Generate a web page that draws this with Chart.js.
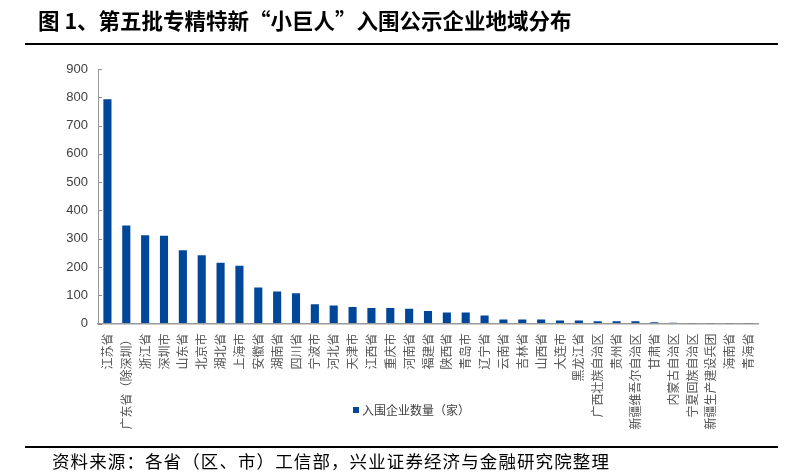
<!DOCTYPE html>
<html>
<head>
<meta charset="utf-8">
<script src="https://cdn.jsdelivr.net/npm/chart.js@4/dist/chart.umd.min.js"></script>
<style>
  html, body { margin: 0; padding: 0; background: #fff; }
  #wrap { position: relative; width: 805px; height: 475px; overflow: hidden; background: #fff; }
  #c { position: absolute; left: 0; top: 0; }
  .title { position: absolute; left: 38px; top: 6px; font-family: "Noto Sans CJK SC", sans-serif; font-weight: 700; font-size: 21.5px; color: #000; white-space: nowrap; line-height: 28px; }
  .rule { position: absolute; left: 25px; width: 753px; height: 2px; background: #000; }
  .foot { position: absolute; left: 52px; top: 449px; font-family: "Noto Sans CJK SC", sans-serif; font-size: 17.5px; color: #000; white-space: nowrap; line-height: 24px; letter-spacing: 1.1px; }
  .legend { position: absolute; left: 353px; top: 402px; font-family: "Noto Sans CJK SC", sans-serif; font-size: 12px; color: #404040; white-space: nowrap; line-height: 16px; }
  .legend i { display: inline-block; width: 6px; height: 6px; background: #00479A; margin-right: 3px; vertical-align: 2px; }
</style>
</head>
<body>
<div id="wrap">
  <canvas id="c" width="805" height="475"></canvas>
  <div class="title">图 1、第五批专精特新“小巨人”入围公示企业地域分布</div>
  <div class="rule" style="top:43px"></div>
  <div class="rule" style="top:446px"></div>
  <div class="legend"><i></i>入围企业数量（家）</div>
  <div class="foot">资料来源：各省（区、市）工信部，兴业证券经济与金融研究院整理</div>
</div>
<script>
const categories = ["江苏省","广东省（除深圳）","浙江省","深圳市","山东省","北京市","湖北省","上海市","安徽省","湖南省","四川省","宁波市","河北省","天津市","江西省","重庆市","河南省","福建省","陕西省","青岛市","辽宁省","云南省","吉林省","山西省","大连市","黑龙江省","广西壮族自治区","贵州省","新疆维吾尔自治区","甘肃省","内蒙古自治区","宁夏回族自治区","新疆生产建设兵团","海南省","青海省"];
const seriesName = "入围企业数量（家）";
const companyCounts = [793,347,312,310,259,241,215,204,127,113,107,68,64,58,55,55,52,44,39,39,28,14,14,14,11,11,8,8,8,4,3,1,1,1,1];
const yTicks = [0,100,200,300,400,500,600,700,800,900];

const inwardTicks = {
  id: 'inwardTicks',
  afterDraw(chart) {
    const y = chart.scales.y, ctx = chart.ctx;
    ctx.save();
    ctx.strokeStyle = '#8c8c8c';
    ctx.lineWidth = 1;
    yTicks.forEach(v => {
      const py = Math.round(y.getPixelForValue(v)) + 0.5;
      ctx.beginPath();
      ctx.moveTo(y.right, py);
      ctx.lineTo(y.right + 4, py);
      ctx.stroke();
    });
    ctx.restore();
  }
};

new Chart(document.getElementById('c'), {
  type: 'bar',
  data: {
    labels: categories,
    datasets: [{
      label: seriesName,
      data: companyCounts,
      backgroundColor: '#00479A',
      borderWidth: 0,
      categoryPercentage: 1,
      barPercentage: 0.43
    }]
  },
  options: {
    responsive: false,
    animation: false,
    devicePixelRatio: 1,
    layout: { padding: { top: 69, right: 47, left: 0, bottom: 0 } },
    plugins: { legend: { display: false }, tooltip: { enabled: false }, title: { display: false } },
    scales: {
      x: {
        offset: true,
        grid: { display: true, drawOnChartArea: false, drawTicks: false },
        border: { display: true, color: '#9a9a9a', width: 1.5 },
        ticks: {
          autoSkip: false, maxRotation: 90, minRotation: 90, padding: 10,
          color: '#555',
          font: { family: '"Noto Sans CJK SC", sans-serif', size: 12 }
        },
        afterFit(scale) { scale.height = 475 - 323.5; }
      },
      y: {
        min: 0, max: 900,
        afterBuildTicks(scale) { scale.ticks = yTicks.map(v => ({ value: v })); },
        grid: { display: true, drawOnChartArea: false, drawTicks: false },
        border: { display: true, color: '#9a9a9a', width: 1 },
        ticks: {
          padding: 10,
          color: '#404040',
          font: { family: '"Liberation Sans", Arial, sans-serif', size: 13 }
        },
        afterFit(scale) { scale.width = 98; }
      }
    }
  },
  plugins: [inwardTicks]
});
</script>
</body>
</html>
